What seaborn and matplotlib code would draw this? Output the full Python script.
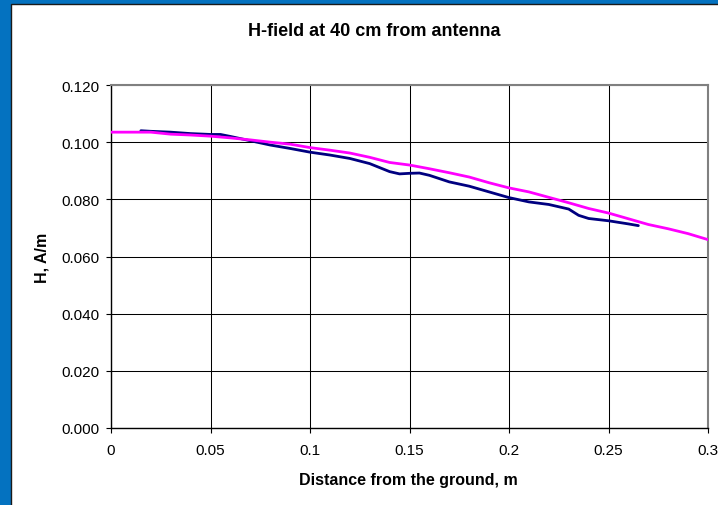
import matplotlib
matplotlib.use("Agg")
import matplotlib.pyplot as plt
import seaborn as sns
import pandas as pd
from matplotlib.patches import Rectangle

# ---- data ----
dist_pink = [0.00, 0.01, 0.02, 0.03, 0.04, 0.05, 0.06, 0.07, 0.08, 0.09, 0.10,
             0.11, 0.12, 0.13, 0.14, 0.15, 0.16, 0.17, 0.18, 0.19, 0.20,
             0.21, 0.22, 0.23, 0.24, 0.25, 0.26, 0.27, 0.28, 0.29, 0.30]
h_pink = [0.1035, 0.1035, 0.1035, 0.1028, 0.1025, 0.1021, 0.1015, 0.1008, 0.1000, 0.0993, 0.0981,
          0.0972, 0.0962, 0.0947, 0.0929, 0.0920, 0.0907, 0.0893, 0.0878, 0.0858, 0.0840,
          0.0826, 0.0807, 0.0788, 0.0768, 0.0752, 0.0732, 0.0712, 0.0697, 0.0680, 0.0659]

dist_navy = [0.015, 0.02, 0.03, 0.04, 0.05, 0.055, 0.06, 0.07, 0.08, 0.09, 0.10,
             0.11, 0.12, 0.13, 0.14, 0.145, 0.15, 0.155, 0.16, 0.17, 0.18, 0.19,
             0.20, 0.21, 0.22, 0.23, 0.235, 0.24, 0.25, 0.26, 0.265]
h_navy = [0.1040, 0.1038, 0.1035, 0.1030, 0.1027, 0.1027, 0.1020, 0.1005, 0.0990, 0.0978, 0.0965,
          0.0955, 0.0943, 0.0925, 0.0897, 0.0889, 0.0891, 0.0892, 0.0884, 0.0861, 0.0846, 0.0826,
          0.0806, 0.0791, 0.0782, 0.0766, 0.0744, 0.0733, 0.0725, 0.0714, 0.0708]

x_ticks = [0, 0.05, 0.1, 0.15, 0.2, 0.25, 0.3]
x_tick_labels = ["0", "0.05", "0.1", "0.15", "0.2", "0.25", "0.3"]
y_ticks = [0.0, 0.02, 0.04, 0.06, 0.08, 0.10, 0.12]
y_tick_labels = ["0.000", "0.020", "0.040", "0.060", "0.080", "0.100", "0.120"]

title = "H-field at 40 cm from antenna"
x_label = "Distance from the ground, m"
y_label = "H, A/m"

df_pink = pd.DataFrame({"x": dist_pink, "y": h_pink})
df_navy = pd.DataFrame({"x": dist_navy, "y": h_navy})

sns.set_style("white")
plt.rcParams["font.family"] = ["Liberation Sans", "DejaVu Sans"]
plt.rcParams["text.color"] = "black"

W, H = 718, 506
fig = plt.figure(figsize=(W / 100, H / 100), dpi=100)
fig.patch.set_facecolor("#0472C0")

# white chart area with dark edge on top/left (background axes)
bg = fig.add_axes([0, 0, 1, 1], zorder=-5)
bg.set_xlim(0, W)
bg.set_ylim(H, 0)
bg.axis("off")
bg.add_patch(Rectangle((10.5, 4.5), W + 10, H + 10, facecolor="white",
                       edgecolor="#1a1a1a", linewidth=1.0))

ax = fig.add_axes([111 / W, (H - 429) / H, (708 - 111) / W, (429 - 86) / H], zorder=1)
ax.set_facecolor("white")

sns.lineplot(data=df_navy, x="x", y="y", ax=ax, color="#000080", linewidth=2.0, zorder=3)
sns.lineplot(data=df_pink, x="x", y="y", ax=ax, color="#FF00FF", linewidth=2.0, zorder=4)

ax.set_xlim(0, 0.3)
ax.set_ylim(0, 0.12)
ax.set_xticks(x_ticks)
ax.set_xticklabels(x_tick_labels)
ax.set_yticks(y_ticks)
ax.set_yticklabels(y_tick_labels)

ax.grid(True, color="black", linewidth=0.75)
ax.set_axisbelow(True)

for s in ["left", "bottom"]:
    ax.spines[s].set_color("black")
    ax.spines[s].set_linewidth(1.0)
for s in ["top", "right"]:
    ax.spines[s].set_color("#808080")
    ax.spines[s].set_linewidth(1.5)

ax.tick_params(axis="both", direction="out", length=3.5, width=0.8, color="black",
               labelsize=11, labelcolor="black", bottom=True, left=True)
ax.tick_params(axis="x", pad=7)
ax.tick_params(axis="y", pad=5)

ax.set_xlabel("")
ax.set_ylabel("")
fig.text(408 / W, 1 - 481 / H, x_label, ha="center", va="center", fontsize=11.5,
         fontweight="bold", color="black")
fig.text(42 / W, 1 - 258 / H, y_label, ha="center", va="center", rotation=90,
         fontsize=11.5, fontweight="bold", color="black")
fig.text(374 / W, 1 - 31 / H, title, ha="center", va="center", fontsize=13,
         fontweight="bold", color="black")

fig.savefig("out.png", dpi=100, facecolor=fig.get_facecolor())
